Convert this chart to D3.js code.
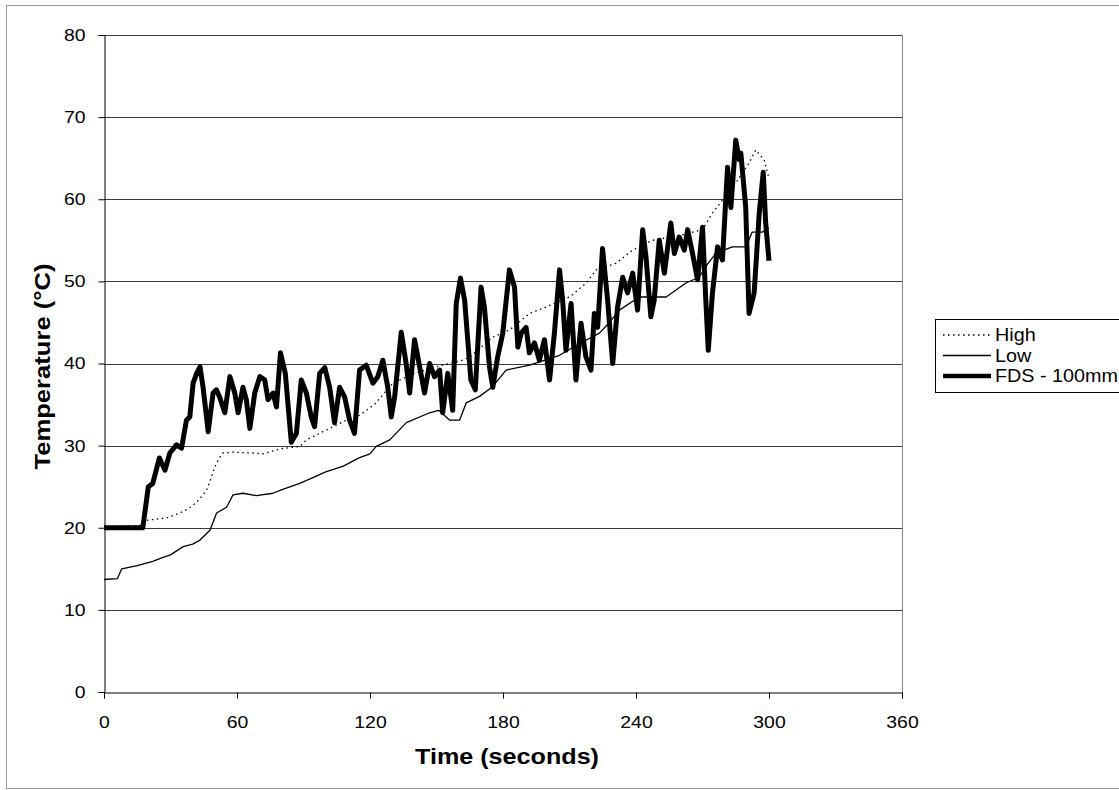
<!DOCTYPE html>
<html>
<head>
<meta charset="utf-8">
<script src="https://cdn.jsdelivr.net/npm/d3@7"></script>
<style>
  html, body { margin: 0; padding: 0; background: #fff; }
  svg { display: block; font-family: "Liberation Sans", Arial, sans-serif; }
</style>
</head>
<body>
<svg id="chart" width="1119" height="790"></svg>
<script>
// ---- data ----
const xTicks = [0, 60, 120, 180, 240, 300, 360];
const yTicks = [0, 10, 20, 30, 40, 50, 60, 70, 80];
const seriesNames = ["High", "Low", "FDS - 100mm"];

const highTime = [0, 17, 19.2, 28.2, 34.2, 38, 41.8, 44, 46.3, 48, 50, 52, 53.6, 58.3, 67.3, 71.8, 79.3, 88.3, 91.3, 100.3, 109.3, 115.3, 122, 130.3, 140, 150, 161.8, 165, 175.4, 183, 192, 199.6, 210, 217.6, 222, 231, 238.4, 247.4, 260, 270, 274.4, 279, 285, 291, 294, 297.8, 300];
const highTemp = [20, 20.3, 20.9, 21.2, 21.8, 22.3, 23.1, 23.8, 24.6, 25.8, 27.4, 28.5, 29.1, 29.2, 29.1, 29, 29.6, 29.9, 30.7, 31.9, 33.1, 33.7, 35, 37.6, 38.8, 39.6, 40.4, 40.8, 43.2, 44.1, 46.1, 46.9, 48.1, 49.8, 51.4, 52.2, 53.8, 55, 55.6, 56.3, 58.3, 59.9, 62, 64.4, 66, 64.8, 62.5];

const lowTime = [0, 6, 8, 15, 22, 26.6, 30, 35.7, 40, 43.3, 47.8, 50.8, 55.3, 58.2, 62.7, 68.8, 76.2, 80, 88.3, 95, 100, 108, 115, 120, 122.8, 128.9, 136.4, 146.9, 151, 156, 160.4, 163.4, 169.4, 175, 181.4, 192, 205.5, 215, 223.5, 228, 232.5, 241.5, 253.6, 262.5, 268.5, 272, 276, 283.4, 289.6, 292.4, 297, 300];
const lowTemp = [13.7, 13.8, 15, 15.4, 15.9, 16.4, 16.7, 17.7, 18, 18.5, 19.7, 21.8, 22.5, 24, 24.2, 23.9, 24.2, 24.6, 25.4, 26.2, 26.8, 27.5, 28.5, 29, 29.9, 30.7, 32.8, 34, 34.3, 33.1, 33.1, 35.2, 36, 37.1, 39.2, 39.8, 41, 42.5, 43.7, 45, 46.5, 48.1, 48.1, 49.8, 50.5, 52, 53.4, 54.2, 54.2, 56, 56, 56.5];

const fdsTime = [0, 17.5, 19, 20, 22, 25, 27.5, 29.7, 32.7, 35, 37.2, 38.7, 40.2, 41.8, 43.3, 44.7, 47, 49.2, 50.7, 52.2, 54.5, 56.8, 59, 60.5, 62.7, 64.2, 65.8, 68, 70.3, 72.5, 74, 76.3, 77.8, 79.6, 81.8, 84.5, 86.8, 89, 91.3, 93.5, 95, 97.3, 99.6, 101.8, 104, 106.3, 108.6, 110.8, 113, 115.3, 118.3, 121.3, 123.5, 125.8, 128, 129.6, 131.1, 134.1, 136.3, 137.9, 140.1, 142.4, 144.6, 146.9, 149.1, 151.4, 152.8, 155.1, 157.3, 158.9, 160.8, 162.7, 165.5, 167.5, 170.1, 171.6, 173.9, 175.4, 177.6, 179.9, 182.9, 185.2, 186.7, 188.2, 190.4, 191.9, 194.2, 196.4, 198.7, 201, 203.2, 205.5, 206.9, 208.4, 210.7, 212.9, 215.2, 217.4, 219.7, 221.2, 222.7, 224.9, 227.2, 229.5, 231.7, 234, 236.2, 238.5, 240.7, 243, 244.5, 246.7, 248.2, 250.5, 252.8, 255.7, 257.3, 259.5, 261.8, 263.3, 265.5, 267.8, 270, 271.5, 272.6, 274.5, 276.8, 279, 281.3, 282.8, 285, 286.6, 287.3, 289.5, 291, 293.3, 295.6, 297.4, 298.5, 300];
const fdsTemp = [20, 20, 23, 25, 25.4, 28.5, 27, 29.1, 30.1, 29.7, 33.1, 33.5, 37.6, 38.8, 39.6, 37.1, 31.7, 36.4, 36.8, 35.9, 34, 38.4, 36.4, 34, 37.1, 35.6, 32.1, 36.4, 38.4, 38, 35.6, 36.4, 34.7, 41.3, 38.8, 30.4, 31.5, 38, 36.4, 33.5, 32.3, 38.8, 39.5, 37.1, 32.8, 37.1, 35.9, 33.1, 31.5, 39.2, 39.8, 37.6, 38.4, 40.4, 37.1, 33.5, 35.9, 43.8, 40, 36.4, 42.9, 39.6, 36.4, 40, 38.4, 39.2, 34, 38.8, 34.3, 47.3, 50.4, 47.7, 38, 36.8, 49.3, 46.9, 39.6, 37.1, 40.8, 43.7, 51.4, 49.3, 42, 43.7, 44.4, 41.3, 42.5, 40.4, 42.9, 38, 43.7, 51.4, 47.7, 41.6, 47.3, 38, 44.9, 40.8, 39.2, 46.1, 44.4, 54, 47.7, 40, 46.9, 50.5, 48.6, 51, 46.5, 56.3, 53, 45.7, 47.7, 55, 51, 57.1, 53.4, 55.4, 53.8, 56.3, 53.4, 50.2, 56.6, 47.7, 41.6, 48.6, 54.2, 52.6, 63.9, 59, 67.2, 64.8, 65.6, 59, 46.1, 48.6, 58.3, 63.3, 57.1, 52.5];

// ---- layout ----
const svg = d3.select("#chart");
const plot = { left: 104, right: 902, top: 35, bottom: 692 };
const x = d3.scaleLinear().domain([0, 360]).range([plot.left, plot.right]);
const y = d3.scaleLinear().domain([0, 80]).range([plot.bottom, plot.top]);
const FONT = "'Liberation Sans', Arial, sans-serif";
const WIDEN = 1.14; // glyphs in the reference are slightly wider than Arial

function widen(sel, k) {
  sel.each(function () {
    const len = this.getComputedTextLength();
    d3.select(this).attr("textLength", len * k).attr("lengthAdjust", "spacingAndGlyphs");
  });
}

// outer chart border
svg.append("rect").attr("x", 6.5).attr("y", 5.5).attr("width", 1130).attr("height", 783)
  .attr("fill", "none").attr("stroke", "#9a9a9a").attr("stroke-width", 1);

// gridlines
svg.append("g").selectAll("line").data(yTicks.filter(d => d > 0)).join("line")
  .attr("x1", plot.left).attr("x2", plot.right)
  .attr("y1", d => Math.round(y(d)) + 0.5).attr("y2", d => Math.round(y(d)) + 0.5)
  .attr("stroke", "#3a3a3a").attr("stroke-width", 1);

// right border of plot area
svg.append("line").attr("x1", plot.right + 0.5).attr("x2", plot.right + 0.5)
  .attr("y1", plot.top).attr("y2", plot.bottom)
  .attr("stroke", "#888").attr("stroke-width", 1);

// axes
const yAxis = svg.append("g").attr("transform", `translate(${plot.left + 0.5},0)`)
  .call(d3.axisLeft(y).tickValues(yTicks).tickSize(6).tickPadding(13).tickFormat(d3.format("d")));
const xAxis = svg.append("g").attr("transform", `translate(0,${Math.round(plot.bottom) + 0.5})`)
  .call(d3.axisBottom(x).tickValues(xTicks).tickSize(6).tickPadding(17).tickFormat(d3.format("d")));
[yAxis, xAxis].forEach(g => {
  g.attr("font-family", FONT).attr("font-size", 17);
  g.select(".domain").attr("stroke", "#000").attr("stroke-width", 1);
  g.selectAll(".tick line").attr("stroke", "#000");
  g.selectAll(".tick text").attr("fill", "#000");
  widen(g.selectAll(".tick text"), WIDEN);
});

// axis titles
const xt = svg.append("text").attr("x", (plot.left + plot.right) / 2 + 4).attr("y", 764)
  .attr("text-anchor", "middle").attr("font-size", "22px").attr("font-weight", "bold")
  .attr("font-family", FONT).text("Time (seconds)");
xt.attr("textLength", 184).attr("lengthAdjust", "spacingAndGlyphs");
const yt = svg.append("text").attr("transform", `translate(50,${(plot.top + plot.bottom) / 2 + 3}) rotate(-90)`)
  .attr("text-anchor", "middle").attr("font-size", "22px").attr("font-weight", "bold")
  .attr("font-family", FONT).text("Temperature (°C)");
yt.attr("textLength", 206).attr("lengthAdjust", "spacingAndGlyphs");

// series
const line = d3.line().x(d => x(d[0])).y(d => y(d[1]));
const zip = (a, b) => a.map((t, i) => [t, b[i]]);
const styles = [
  { w: 1.3, dash: "1.5,3.5" },
  { w: 1.3, dash: null },
  { w: 5, dash: null }
];
const series = [zip(highTime, highTemp), zip(lowTime, lowTemp), zip(fdsTime, fdsTemp)];
series.forEach((s, i) => {
  svg.append("path").datum(s).attr("d", line)
    .attr("fill", "none").attr("stroke", "#000")
    .attr("stroke-width", styles[i].w)
    .attr("stroke-linejoin", "round")
    .attr("stroke-dasharray", styles[i].dash);
});

// legend
const lg = svg.append("g");
lg.append("rect").attr("x", 935.5).attr("y", 319.5).attr("width", 200).attr("height", 73)
  .attr("fill", "#fff").attr("stroke", "#000").attr("stroke-width", 1);
seriesNames.forEach((name, i) => {
  const yy = 335 + i * 20.5;
  lg.append("line").attr("x1", 943).attr("x2", 991).attr("y1", yy).attr("y2", yy)
    .attr("stroke", "#000").attr("stroke-width", i === 2 ? 4.5 : styles[i].w)
    .attr("stroke-dasharray", styles[i].dash);
  const t = lg.append("text").attr("x", 995).attr("y", yy + 6).attr("font-size", "17.5px")
    .attr("font-family", FONT).text(name);
  widen(t, 1.13);
});
</script>
</body>
</html>
